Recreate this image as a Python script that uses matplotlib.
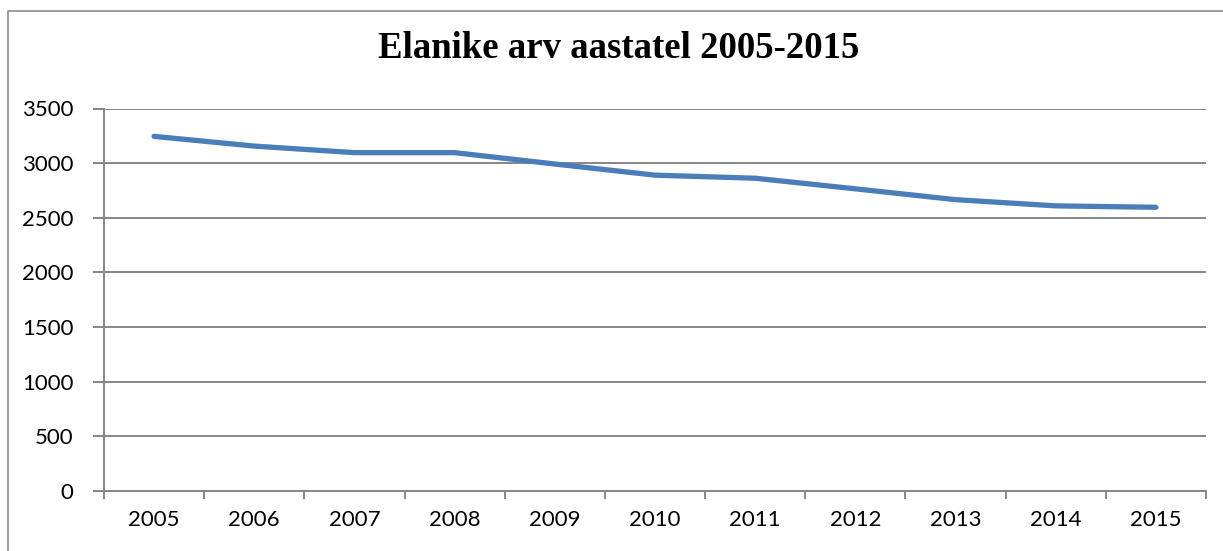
import matplotlib
matplotlib.use('Agg')
import matplotlib.pyplot as plt
from matplotlib.lines import Line2D

years = ["2005", "2006", "2007", "2008", "2009", "2010",
         "2011", "2012", "2013", "2014", "2015"]
residents = [3245, 3156, 3096, 3096, 2992, 2890, 2862, 2765, 2666, 2609, 2596]
y_ticks = [0, 500, 1000, 1500, 2000, 2500, 3000, 3500]

W, H = 1223, 551
fig = plt.figure(figsize=(W / 100, H / 100), dpi=100)

# outer chart border, only left and top edges are visible in the crop
border_x = [8 / W, 8 / W, 1.0]
border_y = [0.0, 1 - 11 / H, 1 - 11 / H]
fig.add_artist(Line2D(border_x, border_y, transform=fig.transFigure,
                      color='#8c8c8c', linewidth=1.2))

ax = fig.add_axes([104 / W, 1 - 491 / H, (1206 - 104) / W, (491 - 108.5) / H])
x = list(range(len(years)))
ax.plot(x, residents, color='#4a7ebb', linewidth=3.8, solid_capstyle='round',
        solid_joinstyle='round', zorder=3)

ax.set_xlim(-0.5, len(years) - 0.5)
ax.set_ylim(0, 3500)
ax.set_yticks(y_ticks)
ax.set_yticklabels([str(v) for v in y_ticks])
ax.set_xticks(x)
ax.set_xticklabels(years)
ax.set_xticks([i - 0.5 for i in range(len(years) + 1)], minor=True)

grey = '#868686'
ax.grid(True, axis='y', color=grey, linewidth=1.4)
ax.set_axisbelow(True)
for side in ['top', 'right']:
    ax.spines[side].set_visible(False)
for side in ['left', 'bottom']:
    ax.spines[side].set_color(grey)
    ax.spines[side].set_linewidth(1.4)

ax.tick_params(axis='y', length=8, width=1.4, color=grey, pad=14,
               labelsize=16, labelfontfamily='Lato')
ax.tick_params(axis='x', which='major', length=0, pad=14,
               labelsize=16, labelfontfamily='Lato')
ax.tick_params(axis='x', which='minor', length=6, width=1.4, color=grey)

fig.text(619 / W, 1 - 49 / H, 'Elanike arv aastatel 2005-2015', ha='center', va='center',
         fontsize=26.5, fontweight='bold', family='Liberation Serif')

fig.savefig('out.png', dpi=100)
